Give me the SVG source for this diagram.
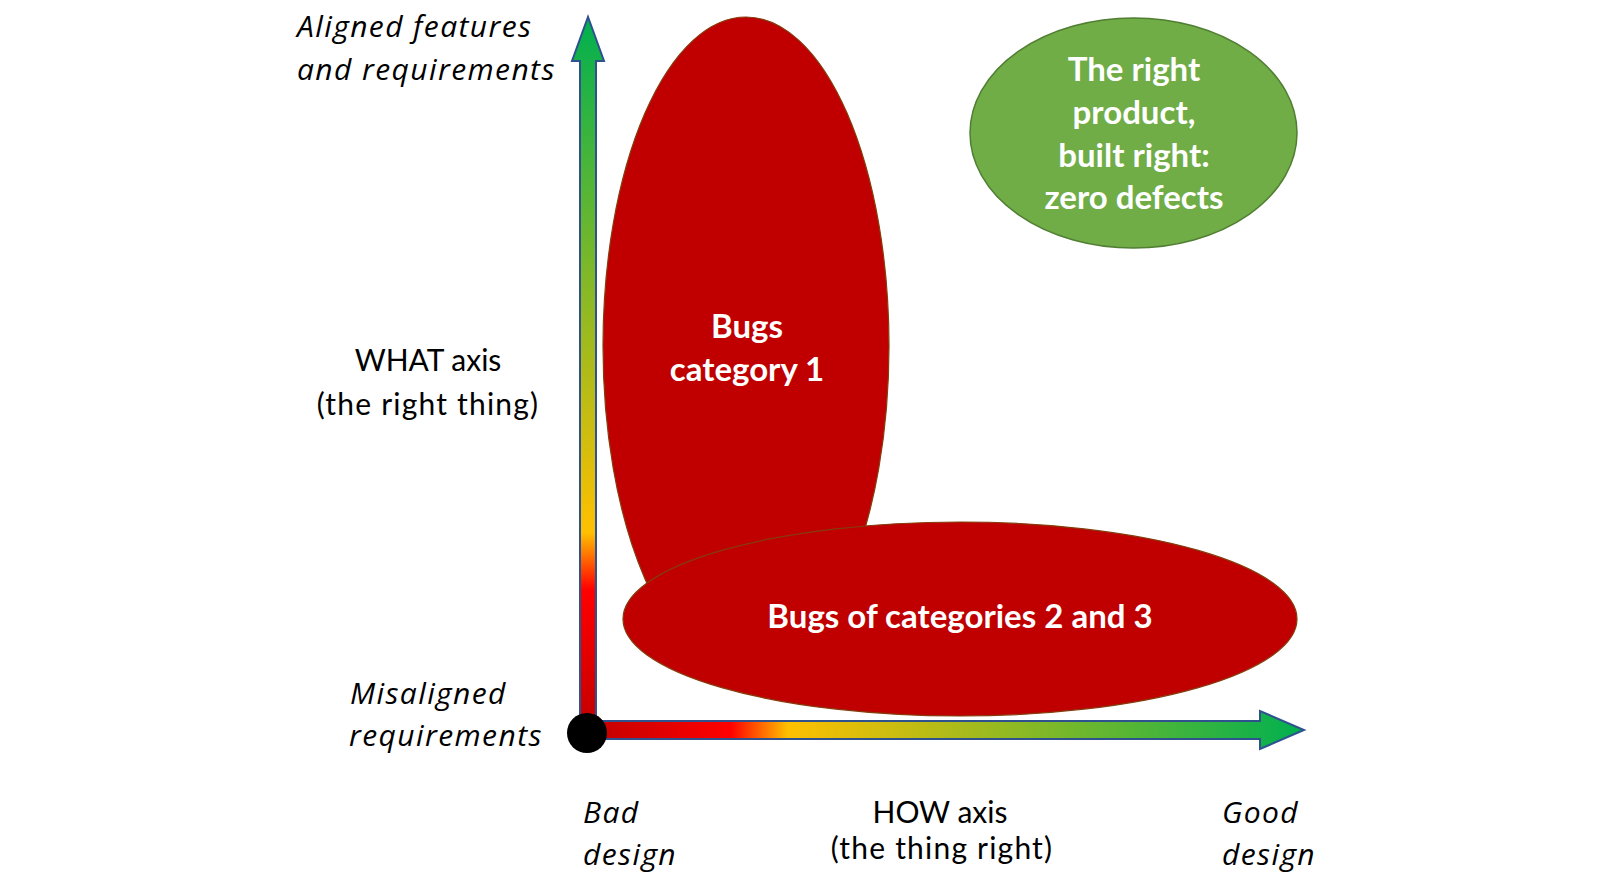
<svg xmlns="http://www.w3.org/2000/svg" width="1613" height="879" viewBox="0 0 1613 879">
<style>
.t{font-family:Lato,"Open Sans",sans-serif;font-size:30px;fill:#000}
.i{font-family:"Open Sans",Lato,sans-serif;font-style:italic;font-size:30px;letter-spacing:1.4px}
.m{text-anchor:middle}
.ls{letter-spacing:1.2px}
.b{font-family:Lato,"Open Sans",sans-serif;font-weight:bold;font-size:33px;fill:#fff;text-anchor:middle}
.red{fill:#c00000;stroke:#843c0c;stroke-width:1.2}
.arr{stroke:#2f528f;stroke-width:2;stroke-linejoin:miter}
</style>
<defs>
<linearGradient id="gv" gradientUnits="userSpaceOnUse" x1="0" y1="733" x2="0" y2="17">
<stop offset="0" stop-color="#c00000"/><stop offset="0.2" stop-color="#ff0000"/><stop offset="0.28" stop-color="#ffc000"/><stop offset="1" stop-color="#00b050"/>
</linearGradient>
<linearGradient id="gh" gradientUnits="userSpaceOnUse" x1="587" y1="0" x2="1304" y2="0">
<stop offset="0" stop-color="#c00000"/><stop offset="0.2" stop-color="#ff0000"/><stop offset="0.28" stop-color="#ffc000"/><stop offset="1" stop-color="#00b050"/>
</linearGradient>
</defs>
<rect width="1613" height="879" fill="#fff"/>
<g id="labels">
<text class="t i" x="297" y="37">Aligned features</text>
<text class="t i" x="297" y="80">and requirements</text>
<text class="t m" x="428" y="371">WHAT axis</text>
<text class="t m ls" x="428" y="415">(the right thing)</text>
<text class="t i" x="350" y="704">Misaligned</text>
<text class="t i" x="349" y="746">requirements</text>
<text class="t i" x="583" y="823">Bad</text>
<text class="t i" x="583" y="865">design</text>
<text class="t m" x="940" y="823">HOW axis</text>
<text class="t m ls" x="942" y="859">(the thing right)</text>
<text class="t i" x="1222" y="823">Good</text>
<text class="t i" x="1222" y="865">design</text>
</g>
<g id="bugs1">
<ellipse class="red" cx="746" cy="346" rx="143" ry="329"/>
<text class="b" x="747" y="338">Bugs</text>
<text class="b" x="747" y="381">category 1</text>
</g>
<g id="bugs23">
<ellipse class="red" cx="960" cy="619" rx="337" ry="97"/>
<text class="b" x="960" y="628">Bugs of categories 2 and 3</text>
</g>
<g id="right-product">
<ellipse cx="1133.5" cy="133" rx="163.5" ry="115" fill="#70ad47" stroke="#507e32" stroke-width="1.5"/>
<text class="b" x="1134" y="81">The right</text>
<text class="b" x="1134" y="124">product,</text>
<text class="b" x="1134" y="167">built right:</text>
<text class="b" x="1134" y="209">zero defects</text>
</g>
<g id="connectors">
<polygon class="arr" fill="url(#gv)" points="580,733 580,61 572,61 588,17 604,61 596,61 596,733"/>
<polygon class="arr" fill="url(#gh)" points="587,721 1260,721 1260,711 1304,730 1260,749 1260,739 587,739"/>
<circle id="origin" cx="587" cy="733" r="20" fill="#000"/>
</g>
</svg>
